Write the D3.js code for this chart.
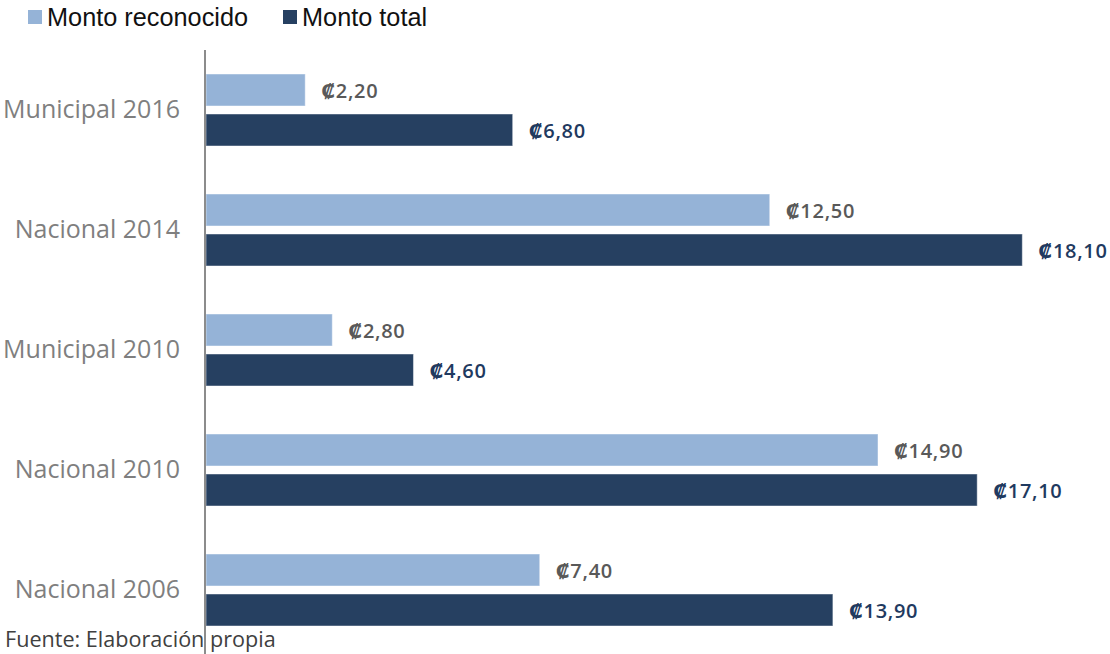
<!DOCTYPE html>
<html>
<head>
<meta charset="utf-8">
<script src="https://cdn.jsdelivr.net/npm/d3@7"></script>
<style>
  body { margin: 0; background: #fff; }
  svg { display: block; }
</style>
</head>
<body>
<svg id="chart"></svg>
<script>
// datos (millones de colones)
const categories = ["Municipal 2016", "Nacional 2014", "Municipal 2010", "Nacional 2010", "Nacional 2006"];
const series = ["Monto reconocido", "Monto total"];
const reconocido = [2.2, 12.5, 2.8, 14.9, 7.4];
const total = [6.8, 18.1, 4.6, 17.1, 13.9];
const source = "Fuente: Elaboración propia";

const width = 1110;
const height = 654;
const colors = ["#95b3d7", "#264061"];
const label_colors = ["#595959", "#1f3a60"];

const rows = categories.map((c, i) => ({cat: c, values: [reconocido[i], total[i]]}));

const svg = d3.select("#chart")
    .attr("width", width)
    .attr("height", height);

const x = d3.scaleLinear().domain([0, 20]).range([206, 1108]);
const y = d3.scaleBand().domain(categories).range([50, 650]);
const y_inner = d3.scaleBand().domain(series).range([0, y.bandwidth()])
    .paddingInner(0.2).paddingOuter(0.6);

// barras
const groups = svg.selectAll(".grp")
    .data(rows)
    .enter().append("g")
    .attr("class", "grp")
    .attr("transform", d => `translate(0,${y(d.cat)})`);

groups.selectAll("rect")
    .data(d => d.values.map((v, k) => ({v: v, s: series[k], k: k})))
    .enter().append("rect")
    .attr("x", x(0))
    .attr("y", d => y_inner(d.s))
    .attr("width", d => x(d.v) - x(0))
    .attr("height", y_inner.bandwidth())
    .attr("fill", d => colors[d.k])
    .attr("stroke", "rgba(255,255,255,0.45)")
    .attr("stroke-width", 1);

groups.selectAll(".val")
    .data(d => d.values.map((v, k) => ({v: v, s: series[k], k: k})))
    .enter().append("text")
    .attr("class", "val")
    .attr("x", d => x(d.v) + 16)
    .attr("y", d => y_inner(d.s) + y_inner.bandwidth() / 2)
    .attr("dy", "0.38em")
    .attr("font-family", "'Open Sans', 'DejaVu Sans', sans-serif")
    .attr("font-weight", 600)
    .attr("font-size", 20)
    .attr("letter-spacing", 0.7)
    .attr("fill", d => label_colors[d.k])
    .text(d => "₡" + d.v.toFixed(2).replace(".", ","));

// eje vertical
const yAxis = svg.append("g")
    .attr("transform", `translate(${x(0) - 1},0)`)
    .call(d3.axisLeft(y).tickSize(0).tickPadding(25));
yAxis.select(".domain").remove();
yAxis.selectAll("text")
    .attr("font-family", "'Open Sans', sans-serif")
    .attr("font-size", 25)
    .attr("fill", "#7f7f7f");

svg.append("line")
    .attr("x1", x(0) - 1).attr("x2", x(0) - 1)
    .attr("y1", y.range()[0]).attr("y2", height)
    .attr("stroke", "#8c8c8c")
    .attr("stroke-width", 2);

// leyenda
const legend_x = [28, 283];
const legend = svg.selectAll(".leg")
    .data(series)
    .enter().append("g")
    .attr("class", "leg")
    .attr("transform", (d, i) => `translate(${legend_x[i]},10)`);
legend.append("rect")
    .attr("width", 14).attr("height", 14)
    .attr("fill", (d, i) => colors[i]);
legend.append("text")
    .attr("x", 19)
    .attr("y", 16)
    .attr("font-family", "'Liberation Sans', Arial, sans-serif")
    .attr("font-size", 25.3)
    .attr("fill", "#111")
    .text(d => d);

// fuente
svg.append("text")
    .attr("x", 5)
    .attr("y", 647)
    .attr("font-family", "'Open Sans', sans-serif")
    .attr("font-size", 21.6)
    .attr("fill", "#404040")
    .text(source);
</script>
</body>
</html>
